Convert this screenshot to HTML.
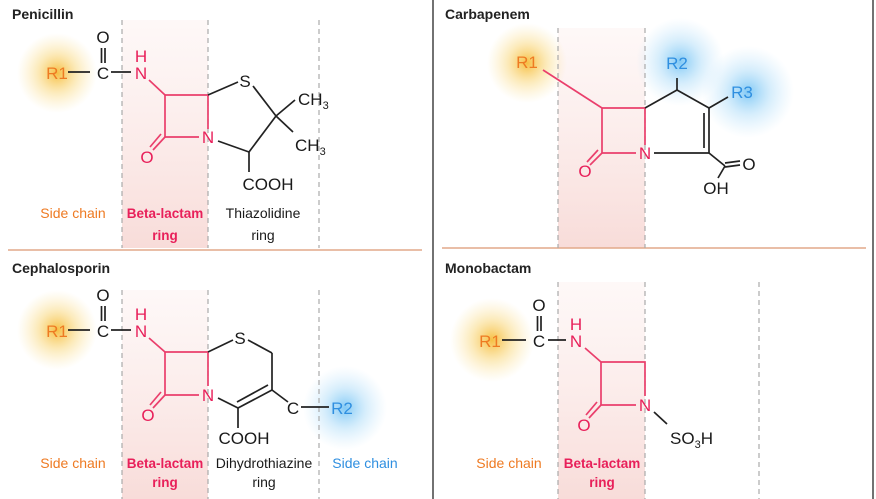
<!DOCTYPE html>
<html><head><meta charset="utf-8"><style>
html,body{margin:0;padding:0;background:#fff;}
svg{display:block;font-family:"Liberation Sans","DejaVu Sans",sans-serif;}
.t{font-size:14px;font-weight:bold;fill:#222;}
.a{font-size:17px;text-anchor:middle;}
.l{font-size:14px;text-anchor:middle;}
.lb{font-size:13.5px;font-weight:bold;text-anchor:middle;}
.k{fill:#1a1a1a}.p{fill:#e8205a}.o{fill:#ee7a22}.b{fill:#2f8fe0}
.sk{stroke:#222;stroke-width:1.7;fill:none}
.sp{stroke:#ea3f6c;stroke-width:1.7;fill:none}
.d{stroke:#aaa;stroke-width:1.2;stroke-dasharray:5,4}
</style></head><body>
<svg width="876" height="499" viewBox="0 0 876 499" xmlns="http://www.w3.org/2000/svg">
<defs>
<radialGradient id="go"><stop offset="0" stop-color="#f5b82e" stop-opacity="0.9"/><stop offset="0.5" stop-color="#f9d77a" stop-opacity="0.5"/><stop offset="1" stop-color="#fbe3a0" stop-opacity="0"/></radialGradient>
<radialGradient id="gb"><stop offset="0" stop-color="#6cc0f4" stop-opacity="0.85"/><stop offset="0.5" stop-color="#a6d9f8" stop-opacity="0.45"/><stop offset="1" stop-color="#bfe3fb" stop-opacity="0"/></radialGradient>
<linearGradient id="pk" x1="0" y1="0" x2="0" y2="1"><stop offset="0" stop-color="#fbe8e6" stop-opacity="0.3"/><stop offset="1" stop-color="#f8dcd9"/></linearGradient>
</defs>
<rect x="122" y="20" width="86" height="228" fill="url(#pk)"/>
<rect x="122" y="290" width="86" height="209" fill="url(#pk)"/>
<rect x="558" y="28" width="87" height="220" fill="url(#pk)"/>
<rect x="558" y="282" width="87" height="217" fill="url(#pk)"/>
<circle cx="57" cy="73" r="40" fill="url(#go)"/>
<circle cx="57" cy="330" r="40" fill="url(#go)"/>
<circle cx="527" cy="63" r="40" fill="url(#go)"/>
<circle cx="492" cy="340" r="42" fill="url(#go)"/>
<circle cx="345" cy="408" r="42" fill="url(#gb)"/>
<circle cx="680" cy="62" r="44" fill="url(#gb)"/>
<circle cx="748" cy="92" r="46" fill="url(#gb)"/>
<line x1="433" y1="0" x2="433" y2="499" stroke="#444" stroke-width="1.5"/>
<line x1="873" y1="0" x2="873" y2="499" stroke="#444" stroke-width="1.5"/>
<line x1="8" y1="250" x2="422" y2="250" stroke="#e2a98a" stroke-width="1.5"/>
<line x1="442" y1="248" x2="866" y2="248" stroke="#e2a98a" stroke-width="1.5"/>
<line class="d" x1="122" y1="20" x2="122" y2="248"/><line class="d" x1="208" y1="20" x2="208" y2="248"/><line class="d" x1="319" y1="20" x2="319" y2="248"/>
<line class="d" x1="122" y1="290" x2="122" y2="499"/><line class="d" x1="208" y1="290" x2="208" y2="499"/><line class="d" x1="319" y1="290" x2="319" y2="499"/>
<line class="d" x1="558" y1="28" x2="558" y2="248"/><line class="d" x1="645" y1="28" x2="645" y2="248"/>
<line class="d" x1="558" y1="282" x2="558" y2="499"/><line class="d" x1="645" y1="282" x2="645" y2="499"/><line class="d" x1="759" y1="282" x2="759" y2="499"/>

<!-- Penicillin -->
<text class="t" x="12" y="19">Penicillin</text>
<text class="a o" x="57" y="79">R1</text>
<line class="sk" x1="68" y1="72" x2="90" y2="72"/>
<text class="a k" x="103" y="79">C</text>
<line class="sk" x1="101.5" y1="48" x2="101.5" y2="63"/><line class="sk" x1="105" y1="48" x2="105" y2="63"/>
<text class="a k" x="103" y="43">O</text>
<line class="sk" x1="111" y1="72" x2="131" y2="72"/>
<text class="a p" x="141" y="79">N</text><text class="a p" x="141" y="62">H</text>
<line class="sp" x1="149" y1="80" x2="165" y2="95"/>
<path class="sp" d="M165 95 H208 V129 M199 137 H165 V95"/>
<line class="sp" x1="165" y1="137" x2="153" y2="150"/><line class="sp" x1="161" y1="134" x2="150" y2="147"/>
<text class="a p" x="147" y="163">O</text>
<text class="a p" x="208" y="143">N</text>
<line class="sk" x1="208" y1="95" x2="238" y2="82"/>
<text class="a k" x="245" y="87">S</text>
<line class="sk" x1="253" y1="86" x2="276" y2="116"/>
<line class="sk" x1="276" y1="116" x2="295" y2="100"/><line class="sk" x1="276" y1="116" x2="293" y2="132"/>
<text class="k" x="298" y="105" font-size="17">CH<tspan font-size="11" dy="4">3</tspan></text>
<text class="k" x="295" y="151" font-size="17">CH<tspan font-size="11" dy="4">3</tspan></text>
<line class="sk" x1="276" y1="116" x2="249" y2="152"/>
<line class="sk" x1="218" y1="141" x2="249" y2="152"/>
<line class="sk" x1="249" y1="152" x2="249" y2="172"/>
<text class="a k" x="268" y="190">COOH</text>
<text class="l o" x="73" y="218">Side chain</text>
<text class="lb p" x="165" y="218">Beta-lactam</text><text class="lb p" x="165" y="240">ring</text>
<text class="l k" x="263" y="218">Thiazolidine</text><text class="l k" x="263" y="240">ring</text>

<!-- Cephalosporin -->
<text class="t" x="12" y="273">Cephalosporin</text>
<text class="a o" x="57" y="337">R1</text>
<line class="sk" x1="68" y1="330" x2="90" y2="330"/>
<text class="a k" x="103" y="337">C</text>
<line class="sk" x1="101.5" y1="306" x2="101.5" y2="321"/><line class="sk" x1="105" y1="306" x2="105" y2="321"/>
<text class="a k" x="103" y="301">O</text>
<line class="sk" x1="111" y1="330" x2="131" y2="330"/>
<text class="a p" x="141" y="337">N</text><text class="a p" x="141" y="320">H</text>
<line class="sp" x1="149" y1="338" x2="165" y2="352"/>
<path class="sp" d="M165 352 H208 V386 M199 395 H165 V352"/>
<line class="sp" x1="165" y1="395" x2="153" y2="408"/><line class="sp" x1="161" y1="392" x2="150" y2="405"/>
<text class="a p" x="148" y="421">O</text>
<text class="a p" x="208" y="401">N</text>
<line class="sk" x1="208" y1="352" x2="233" y2="340"/>
<text class="a k" x="240" y="344">S</text>
<line class="sk" x1="248" y1="340" x2="272" y2="353"/>
<line class="sk" x1="272" y1="353" x2="272" y2="390"/>
<line class="sk" x1="272" y1="390" x2="238" y2="408"/><line class="sk" x1="268" y1="385" x2="237" y2="402"/>
<line class="sk" x1="218" y1="398" x2="238" y2="408"/>
<line class="sk" x1="238" y1="408" x2="238" y2="428"/>
<text class="a k" x="244" y="444">COOH</text>
<line class="sk" x1="272" y1="390" x2="288" y2="402"/>
<text class="a k" x="293" y="414">C</text>
<line class="sk" x1="301" y1="407" x2="329" y2="407"/>
<text class="a b" x="342" y="414">R2</text>
<text class="l o" x="73" y="468">Side chain</text>
<text class="lb p" x="165" y="468">Beta-lactam</text><text class="lb p" x="165" y="487">ring</text>
<text class="l k" x="264" y="468">Dihydrothiazine</text><text class="l k" x="264" y="487">ring</text>
<text class="l b" x="365" y="468">Side chain</text>

<!-- Carbapenem -->
<text class="t" x="445" y="19">Carbapenem</text>
<text class="a o" x="527" y="68">R1</text>
<line class="sp" x1="543" y1="70" x2="602" y2="108"/>
<path class="sp" d="M602 108 H645 V145 M636 153 H602 V108"/>
<line class="sp" x1="602" y1="153" x2="590" y2="165"/><line class="sp" x1="598" y1="150" x2="587" y2="162"/>
<text class="a p" x="585" y="177">O</text>
<text class="a p" x="645" y="159">N</text>
<line class="sk" x1="645" y1="108" x2="677" y2="90"/>
<line class="sk" x1="677" y1="90" x2="677" y2="78"/>
<text class="a b" x="677" y="69">R2</text>
<line class="sk" x1="677" y1="90" x2="709" y2="108"/>
<line class="sk" x1="709" y1="108" x2="728" y2="97"/>
<text class="a b" x="742" y="98">R3</text>
<line class="sk" x1="709" y1="108" x2="709" y2="153"/><line class="sk" x1="704" y1="113" x2="704" y2="148"/>
<line class="sk" x1="654" y1="153" x2="709" y2="153"/>
<line class="sk" x1="709" y1="153" x2="725" y2="166"/>
<line class="sk" x1="725" y1="163" x2="740" y2="161"/><line class="sk" x1="725" y1="167" x2="740" y2="165"/>
<text class="a k" x="749" y="170">O</text>
<line class="sk" x1="725" y1="166" x2="718" y2="178"/>
<text class="a k" x="716" y="194">OH</text>

<!-- Monobactam -->
<text class="t" x="445" y="273">Monobactam</text>
<text class="a o" x="490" y="347">R1</text>
<line class="sk" x1="502" y1="340" x2="526" y2="340"/>
<text class="a k" x="539" y="347">C</text>
<line class="sk" x1="537.5" y1="316" x2="537.5" y2="331"/><line class="sk" x1="541" y1="316" x2="541" y2="331"/>
<text class="a k" x="539" y="311">O</text>
<line class="sk" x1="548" y1="340" x2="566" y2="340"/>
<text class="a p" x="576" y="347">N</text><text class="a p" x="576" y="330">H</text>
<line class="sp" x1="585" y1="348" x2="601" y2="362"/>
<path class="sp" d="M601 362 H645 V396 M636 405 H601 V362"/>
<line class="sp" x1="601" y1="405" x2="589" y2="418"/><line class="sp" x1="597" y1="402" x2="586" y2="415"/>
<text class="a p" x="584" y="431">O</text>
<text class="a p" x="645" y="411">N</text>
<line class="sk" x1="654" y1="412" x2="667" y2="424"/>
<text class="k" x="670" y="444" font-size="17">SO<tspan font-size="11" dy="4">3</tspan><tspan dy="-4">H</tspan></text>
<text class="l o" x="509" y="468">Side chain</text>
<text class="lb p" x="602" y="468">Beta-lactam</text><text class="lb p" x="602" y="487">ring</text>
</svg>
</body></html>
